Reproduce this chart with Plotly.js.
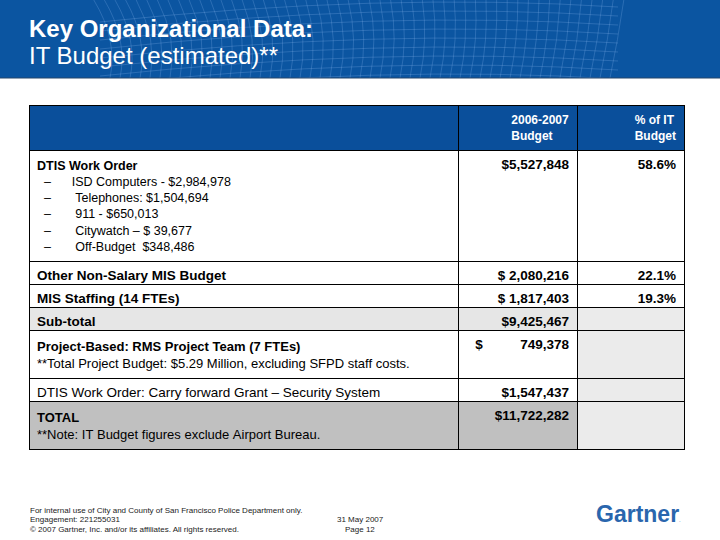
<!DOCTYPE html>
<html>
<head>
<meta charset="utf-8">
<script src="https://cdn.plot.ly/plotly-3.0.1.min.js"></script>
<style>html,body{margin:0;padding:0;background:#fff;}#chart{width:720px;height:540px;}</style>
</head>
<body>
<div id="chart"></div>
<script>
// ---- data ----
const headerLabels = ["", "2006-2007<br>Budget", "% of IT<br>Budget"];
const rowLabels = [
  "DTIS Work Order",
  "Other Non-Salary MIS Budget",
  "MIS Staffing (14 FTEs)",
  "Sub-total",
  "Project-Based: RMS Project Team (7 FTEs)",
  "DTIS Work Order: Carry forward Grant \u2013 Security System",
  "TOTAL"
];
const rowBold = [true, true, true, true, true, false, true];
const rowNotes = ["", "", "", "",
  "**Total Project Budget: $5.29 Million, excluding SFPD staff costs.",
  "",
  "**Note: IT Budget figures exclude Airport Bureau."];
const dtisItems = [
  "ISD Computers - $2,984,978",
  " Telephones: $1,504,694",
  " 911 - $650,013",
  " Citywatch \u2013 $ 39,677",
  " Off-Budget  $348,486"
];
const budgetText = ["$5,527,848", "$ 2,080,216", "$ 1,817,403", "$9,425,467",
  "$          749,378", "$1,547,437", "$11,722,282"];
const pctText = ["58.6%", "22.1%", "19.3%", "", "", "", ""];
const rowStyle = ["plain", "plain", "plain", "subtotal", "plain", "plain", "total"];

const titleLine1 = "Key Organizational Data:";
const titleLine2 = "IT Budget (estimated)**";
const footerLeft = [
  "For internal use of City and County of San Francisco Police Department only.",
  "Engagement: 221255031",
  "\u00a9 2007 Gartner, Inc. and/or its affiliates. All rights reserved."
];
const footerMid = ["31 May 2007", "Page 12"];

// ---- build ----
const nb = s => s.replace(/ /g, "\u00a0");
const FONT = "Liberation Sans, Arial, sans-serif";

const multi = rowLabels.map((lab, i) => i === 0 || !!rowNotes[i]);
const col1 = rowLabels.map((lab, i) => {
  if (!multi[i]) return nb(lab);
  let t = rowBold[i] ? "<b>" + nb(lab) + "</b>" : nb(lab);
  if (i === 0) {
    dtisItems.forEach(it => { t += "<br>\u200b" + nb("  \u2013      " + it); });
  }
  if (rowNotes[i]) t += "<br>" + nb(rowNotes[i]);
  return t;
});
const col2 = budgetText.map(s => nb(s));
const col3 = pctText.map(s => s);

const w1 = rowLabels.map((l, i) => (!multi[i] && rowBold[i]) ? "bold" : "normal");
const wAll = rowLabels.map(() => "bold");
const s1 = rowLabels.map((l, i) => i === 0 ? 12.5 : (multi[i] ? 13 : 13.5));
const sAll = rowLabels.map(() => 13.5);

const fillMap = {plain: "#ffffff", subtotal: "#e6e6e6", total: "#c0c0c0"};
const fill1 = rowStyle.map(s => fillMap[s]);
const fill3 = pctText.map((p, i) => p ? fillMap[rowStyle[i]] : "#ebebeb");

const W = 720, H = 540;
const trace = {
  type: "table",
  domain: {x: [29 / W, 684 / W], y: [0, 1 - 105 / H]},
  columnwidth: [429, 119, 107],
  header: {
    values: headerLabels.map(h => h ? "<b>" + h + "</b>" : ""),
    align: ["left", "right", "right"],
    fill: {color: "#0a4f9b"},
    line: {color: "#000000", width: 1},
    font: {family: FONT, size: 12, color: "#ffffff"},
    height: 40
  },
  cells: {
    values: [col1, col2, col3],
    align: ["left", "right", "right"],
    fill: {color: [fill1, fill1, fill3]},
    line: {color: "#000000", width: 1},
    font: {family: FONT, size: [s1, sAll, sAll], color: "#000000", weight: [w1, wAll, wAll]},
    height: 23
  }
};

const ann = [];
ann.push({xref: "paper", yref: "paper", x: 27 / W, y: 1 - 29 / H, xanchor: "left", yanchor: "middle",
  text: "<b>" + titleLine1 + "</b>", showarrow: false, font: {family: FONT, size: 24, color: "#ffffff"}});
ann.push({xref: "paper", yref: "paper", x: 27 / W, y: 1 - 55 / H, xanchor: "left", yanchor: "middle",
  text: titleLine2, showarrow: false, font: {family: FONT, size: 24, color: "#ffffff"}});
const fy = [510, 519, 529];
footerLeft.forEach((t, i) => ann.push({xref: "paper", yref: "paper", x: 28 / W, y: 1 - fy[i] / H,
  xanchor: "left", yanchor: "middle", text: t, showarrow: false, font: {family: FONT, size: 8, color: "#222222"}}));
footerMid.forEach((t, i) => ann.push({xref: "paper", yref: "paper", x: 360 / W, y: 1 - fy[i + 1] / H,
  xanchor: "center", yanchor: "middle", text: t, showarrow: false, font: {family: FONT, size: 8, color: "#222222"}}));
ann.push({xref: "paper", yref: "paper", x: 594 / W, y: 1 - 514 / H, xanchor: "left", yanchor: "middle",
  text: "<b>Gartner</b><span style='font-size:6px'>.</span>", showarrow: false,
  font: {family: FONT, size: 23, color: "#2a66ad"}});

// header band with a light decorative mesh
const px = x => x / W, py = y => 1 - y / H;
const shapes = [
  {type: "rect", xref: "paper", yref: "paper", x0: 0, x1: 1, y0: py(78), y1: 1,
   fillcolor: "#0b55a1", line: {width: 0}, layer: "below"}
];
const meshColor = "rgba(140,185,240,0.25)";
for (let x = 110; x <= 615; x += 10) {
  const xt = x + (x - 380) * 0.06;
  shapes.push({type: "path", xref: "paper", yref: "paper",
    path: "M" + px(x) + "," + py(78) + " Q" + px(x + 8) + "," + py(40) + " " + px(xt) + "," + py(0),
    line: {color: meshColor, width: 1}, layer: "below"});
}
for (let y = 4; y <= 76; y += 9) {
  shapes.push({type: "path", xref: "paper", yref: "paper",
    path: "M" + px(100) + "," + py(y + 18) + " Q" + px(380) + "," + py(y - 12) + " " + px(618) + "," + py(y + 3),
    line: {color: meshColor, width: 1}, layer: "below"});
}
shapes.push({type: "rect", xref: "paper", yref: "paper", x0: 0, x1: 1, y0: py(98), y1: py(78),
  fillcolor: "#ffffff", line: {width: 0}, layer: "below"});
shapes.push({type: "line", xref: "paper", yref: "paper", x0: 0, x1: 1, y0: py(78), y1: py(78),
  line: {color: "#27476b", width: 1}});

const layout = {
  width: W, height: H,
  margin: {l: 0, r: 0, t: 0, b: 0},
  paper_bgcolor: "#ffffff",
  plot_bgcolor: "#ffffff",
  showlegend: false,
  annotations: ann,
  shapes: shapes
};

Plotly.newPlot("chart", [trace], layout, {staticPlot: true, displayModeBar: false});
</script>
</body>
</html>
